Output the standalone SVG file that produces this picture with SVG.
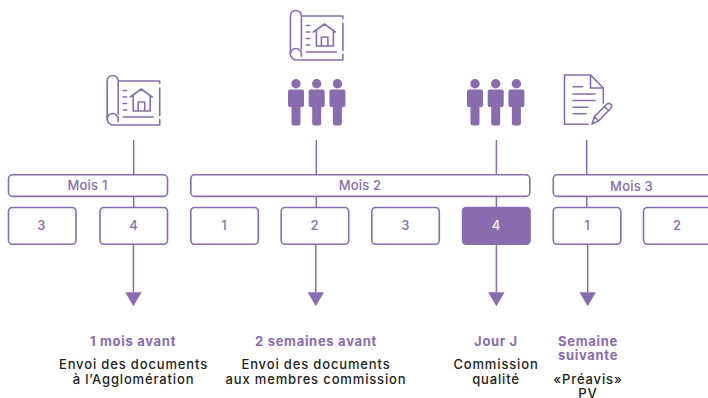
<svg xmlns="http://www.w3.org/2000/svg" width="708" height="398" viewBox="0 0 708 398">
<style>
.b{fill:#fff;stroke:#886cae;stroke-width:1.6}
.c{stroke:#886cae;stroke-width:1.5;fill:none}
.i{fill:none;stroke:#886cae;stroke-width:1.6;stroke-linecap:round;stroke-linejoin:round}
.p{fill:#886cae}
text{font-family:Inter,"Liberation Sans",sans-serif;text-anchor:middle}
.n{fill:#886cae;font-size:13px;font-weight:500;letter-spacing:.2px}
.h{fill:#886cae;font-size:13px;font-weight:700;letter-spacing:.7px}
.d{fill:#222;font-size:13px;font-weight:500;letter-spacing:.85px}
</style>
<defs>
<marker id="a" markerWidth="15" markerHeight="17" markerUnits="userSpaceOnUse" refX="0" refY="8.200" orient="auto"><path d="M0 0L14 8.200L0 16.400Z" fill="#886cae"/></marker>
<g id="plan">
<path class="i" d="M11 5.500H52.500V8M52.500 12.500V40M52.500 44V49.500H7C3 49.500 0 47 0 43.500V5.500C0 2 2.500 0 5.500 0C8.500 0 11 2 11 5.500V38.500"/>
<path class="i" d="M0 43.500C0 40.500 2.500 38 5.500 38C8.500 38 11 40.500 11 43.500V46"/>
<path class="i" d="M16 15H19.500M16 21.500H19.500M16 28H19.500M16 34.500H19.500M16 41.500H46"/>
<path class="i" d="M23 21.500L34 13.500L45 21.500M26 20V35.500H43V20M31 35.500V26.500H37.500V35.500"/>
</g>
<g id="people">
<g id="person"><circle cx="9" cy="4.700" r="4.700" class="p"/><path class="p" d="M3 10.500H15Q17 10.500 17 12.500V26Q17 28 15.500 28L13.500 28V44Q13.500 46.500 11 46.500H7Q4.500 46.500 4.500 44V28H2.500Q1 28 1 26V12.500Q1 10.500 3 10.500Z"/></g>
<use href="#person" x="20.700"/><use href="#person" x="41.400"/>
</g>
</defs>

<g id="connectors">
<path class="c" d="M133.700 140V207"/>
<path class="c" d="M133.400 244V292.300" marker-end="url(#a)"/>
<path class="c" d="M316.300 140V207"/>
<path class="c" d="M315.800 244V292.300" marker-end="url(#a)"/>
<path class="c" d="M496.400 140V207"/>
<path class="c" d="M496.400 244V292.300" marker-end="url(#a)"/>
<path class="c" d="M586.700 140V207"/>
<path class="c" d="M587.700 244V292.300" marker-end="url(#a)"/>
</g>

<g id="icon-plan-1"><use href="#plan" x="107.200" y="75.500"/></g>
<g id="icon-plan-2"><use href="#plan" x="290.400" y="10.500"/></g>
<g id="icon-people-1"><use href="#people" x="287" y="79"/></g>
<g id="icon-people-2"><use href="#people" x="466" y="79"/></g>
<g id="icon-doc">
<path class="i" d="M564.500 75H590.500L603.300 88V103M603.300 88H590.500V75M564.500 75V124.300H588" style="stroke-linecap:square;stroke-linejoin:miter"/>
<path class="i" d="M573 86.700H582.500M573 94H595M573 100.500H595M573 107.300H588M573 113.700H586"/>
<path class="i" d="M592 124L594.500 116.500L607 104Q609 102.500 611 104.500Q612.500 106.500 611 108L598.500 121ZM594.500 116.500L598.500 121M604.500 106.500L608.500 110.500"/>
</g>

<g id="mois-1"><rect class="b" x="8.500" y="174.800" width="159" height="21.600" rx="4"/><text class="n" x="87.500" y="189.500">Mois 1</text></g>
<g id="mois-2"><rect class="b" x="190.800" y="174.800" width="339" height="21.600" rx="4"/><text class="n" x="360" y="189.500">Mois 2</text></g>
<g id="mois-3"><rect class="b" x="553.300" y="174.800" width="170" height="21.600" rx="4"/><text class="n" x="631.500" y="190.500">Mois 3</text></g>

<g id="s-3a"><rect class="b" x="8.500" y="207.500" width="67.500" height="36.800" rx="4"/><text class="n" x="41.500" y="230">3</text></g>
<g id="s-4a"><rect class="b" x="100" y="207.500" width="67.500" height="36.800" rx="4"/><text class="n" x="133.500" y="230">4</text></g>
<g id="s-1b"><rect class="b" x="190.800" y="207.500" width="67.500" height="36.800" rx="4"/><text class="n" x="224" y="230">1</text></g>
<g id="s-2b"><rect class="b" x="281.200" y="207.500" width="67.500" height="36.800" rx="4"/><text class="n" x="314.500" y="230">2</text></g>
<g id="s-3b"><rect class="b" x="371.800" y="207.500" width="67.500" height="36.800" rx="4"/><text class="n" x="405.500" y="230">3</text></g>
<g id="s-4b"><rect x="461.800" y="206.700" width="69" height="38.300" rx="4.500" fill="#886cae"/><text class="n" x="496" y="230" style="fill:#fff">4</text></g>
<g id="s-1c"><rect class="b" x="553.300" y="207.500" width="67.500" height="36.800" rx="4"/><text class="n" x="587" y="230">1</text></g>
<g id="s-2c"><rect class="b" x="643.500" y="207.500" width="80" height="36.800" rx="4"/><text class="n" x="677" y="230">2</text></g>

<g id="label-1"><text class="h" x="133" y="346">1 mois avant</text><text class="d" x="133.500" y="369">Envoi des documents</text><text class="d" x="133.500" y="384">à l’Agglomération</text></g>
<g id="label-2"><text class="h" x="316" y="346">2 semaines avant</text><text class="d" x="316" y="369">Envoi des documents</text><text class="d" x="316" y="384">aux membres commission</text></g>
<g id="label-3"><text class="h" x="496" y="346">Jour J</text><text class="d" x="496" y="369">Commission</text><text class="d" x="496" y="384">qualité</text></g>
<g id="label-4"><text class="h" x="588" y="346">Semaine</text><text class="h" x="588" y="360">suivante</text><text class="d" x="588" y="384">«Préavis»</text><text class="d" x="588" y="397.500">PV</text></g>
</svg>
